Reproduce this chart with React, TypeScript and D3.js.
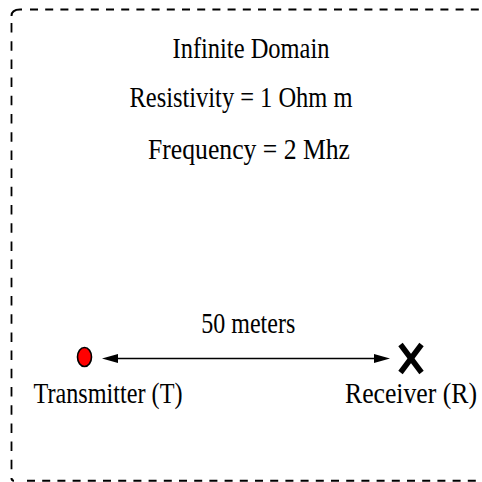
import React from "react";
import * as d3 from "d3";

// ---- data ----
const infoLines = ["Infinite Domain", "Resistivity = 1 Ohm m", "Frequency = 2 Mhz"];
const deviceNames = ["Transmitter (T)", "Receiver (R)"];
const devicePositionsM = [0, 50];
const distanceLabel = "50 meters";

const W = 482;
const H = 482;
const FONT = '"Liberation Serif"';

export default function App() {
  const x = d3.scaleLinear().domain([0, 50]).range([84.5, 411]);
  const xT = x(devicePositionsM[0]);
  const xR = x(devicePositionsM[1]);
  const yDev = 358.5;

  const infoX = [251, 241, 249];
  const infoY = [58, 107, 159];
  const infoLen = [157, 223, 202];

  const arrowL = xT + 17.5;
  const arrowR = xR - 21;
  const headLen = 16;
  const headHW = 4.5;

  const line = d3.line();
  const arrowPath = line([
    [arrowL + headLen, yDev],
    [arrowR - headLen, yDev],
  ]);
  const headLeft = line([
    [arrowL, yDev],
    [arrowL + headLen, yDev - headHW],
    [arrowL + headLen, yDev + headHW],
  ]) + "Z";
  const headRight = line([
    [arrowR, yDev],
    [arrowR - headLen, yDev - headHW],
    [arrowR - headLen, yDev + headHW],
  ]) + "Z";

  const txt = (s: string, cx: number, by: number, len: number, key: string) => (
    <text
      key={key}
      x={cx - len / 2}
      y={by}
      textLength={len}
      lengthAdjust="spacingAndGlyphs"
      fontFamily="Liberation Serif"
      style={{ fontFamily: FONT, fontSize: "30px" }}
      fill="#000"
    >
      {s}
    </text>
  );

  const xw = 10.5;
  const xh = 14;

  return (
    <svg
      width={W}
      height={H}
      style={{ position: "absolute", left: 0, top: 0 }}
      viewBox={`0 0 ${W} ${H}`}
    >
      <rect x={0} y={0} width={W} height={H} fill="#fff" />
      {/* dashed boundary */}
      <g fill="none" stroke="#000" strokeWidth={2}>
        <path d="M11.5,16 Q11.5,9.5 20,9.5 L22,9.5" />
        <line x1={30} y1={9.5} x2={490} y2={9.5} strokeDasharray="8,7.2" />
        <line x1={11.5} y1={23} x2={11.5} y2={472} strokeDasharray="9.5,8.7" strokeWidth={1.8} />
        <path d="M11.5,478 Q11.5,480.8 14,480.8" />
        <line x1={27} y1={480.8} x2={490} y2={480.8} strokeDasharray="8,7.2" />
      </g>

      {infoLines.map((s, i) => txt(s, infoX[i], infoY[i], infoLen[i], "info" + i))}

      {txt(distanceLabel, (xT + xR) / 2 + 0.5, 333, 94, "dist")}

      {/* arrow */}
      <path d={arrowPath!} stroke="#000" strokeWidth={1.3} fill="none" />
      <path d={headLeft} fill="#000" />
      <path d={headRight} fill="#000" />

      {/* transmitter */}
      <ellipse cx={xT} cy={357} rx={7} ry={9.5} fill="#ff0000" stroke="#000" strokeWidth={1.6} />

      {/* receiver X */}
      <g stroke="#000" strokeWidth={5.5} strokeLinecap="butt">
        <line x1={xR - xw} y1={yDev - xh} x2={xR + xw} y2={yDev + xh} />
        <line x1={xR + xw} y1={yDev - xh} x2={xR - xw} y2={yDev + xh} />
      </g>

      {txt(deviceNames[0], 108, 403, 149, "tl")}
      {txt(deviceNames[1], 411, 403, 132, "rl")}
    </svg>
  );
}
